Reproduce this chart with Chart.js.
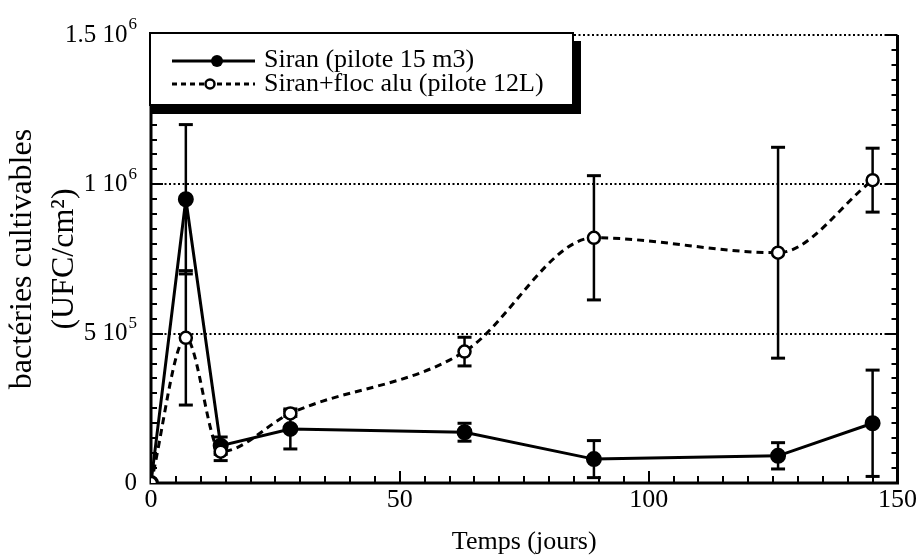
<!DOCTYPE html>
<html>
<head>
<meta charset="utf-8">
<script src="https://cdn.jsdelivr.net/npm/chart.js@4.4.0/dist/chart.umd.min.js"></script>
<style>
  body { margin: 0; background: #fff; }
  canvas { display: block; }
</style>
</head>
<body>
<canvas id="chart" width="919" height="558"></canvas>
<script>
// data (days, UFC/cm2)
const days = [0, 7, 14, 28, 63, 89, 126, 145];
const siranValues = [0, 950000, 125000, 181000, 170000, 80000, 91000, 200000];
const siranErrors = [0, 250000, 29000, 67000, 30000, 62000, 44000, 178000];
const flocValues = [0, 486000, 105000, 233000, 440000, 821000, 771000, 1014000];
const flocErrors = [0, 225000, 30000, 10000, 48000, 208000, 353000, 107000];

const yTickValues = [0, 500000, 1000000, 1500000];
const yTickBase = ['0', '5 10', '1 10', '1.5 10'];
const yTickExp = ['', '5', '6', '6'];

const serif = "'Liberation Serif', 'Times New Roman', serif";

function line(ctx, x1, y1, x2, y2) {
  ctx.beginPath();
  ctx.moveTo(x1, y1);
  ctx.lineTo(x2, y2);
  ctx.stroke();
}

// dotted grid, axes, inward ticks, y labels with exponents
const frame = {
  id: 'frame',
  beforeDatasetsDraw(chart) {
    const { ctx, chartArea: a, scales: { x, y } } = chart;
    ctx.save();
    ctx.strokeStyle = '#000';
    ctx.lineWidth = 2;
    ctx.setLineDash([2, 2.5]);
    yTickValues.slice(1).forEach(v => {
      const py = Math.round(y.getPixelForValue(v));
      line(ctx, a.left, py, a.right, py);
    });
    ctx.setLineDash([]);

    ctx.lineWidth = 3;
    ctx.beginPath();
    ctx.moveTo(a.left, a.top);
    ctx.lineTo(a.left, a.bottom);
    ctx.lineTo(a.right, a.bottom);
    ctx.lineTo(a.right, a.top);
    ctx.stroke();

    ctx.lineWidth = 2;
    for (let v = 0; v <= 1500000; v += 50000) {
      const py = Math.round(y.getPixelForValue(v));
      const len = v % 500000 === 0 ? 12 : 6;
      line(ctx, a.left, py, a.left + len, py);
      line(ctx, a.right, py, a.right - len, py);
    }
    for (let d = 5; d < 150; d += 5) {
      const px = Math.round(x.getPixelForValue(d));
      const len = d % 50 === 0 ? 12 : 7;
      line(ctx, px, a.bottom, px, a.bottom - len);
    }

    // y tick labels
    ctx.fillStyle = '#000';
    ctx.textBaseline = 'middle';
    yTickValues.forEach((v, i) => {
      const py = y.getPixelForValue(v);
      let right = a.left - 14;
      if (yTickExp[i]) {
        ctx.font = '17px ' + serif;
        ctx.textAlign = 'right';
        ctx.fillText(yTickExp[i], right, py - 10);
        right -= ctx.measureText(yTickExp[i]).width + 1;
      }
      ctx.font = '25px ' + serif;
      ctx.textAlign = 'right';
      ctx.fillText(yTickBase[i], right, py);
    });
    ctx.restore();
  }
};

const errorBars = {
  id: 'errorBars',
  beforeDatasetsDraw(chart) {
    const { ctx, scales: { x, y } } = chart;
    const sets = [[siranValues, siranErrors], [flocValues, flocErrors]];
    ctx.save();
    ctx.strokeStyle = '#000';
    sets.forEach(([vals, errs]) => {
      days.forEach((d, i) => {
        if (!errs[i]) return;
        const px = x.getPixelForValue(d);
        const top = y.getPixelForValue(vals[i] + errs[i]);
        const bot = y.getPixelForValue(Math.max(0, vals[i] - errs[i]));
        ctx.lineWidth = 2.5;
        line(ctx, px, top, px, bot);
        ctx.lineWidth = 3;
        line(ctx, px - 7, top, px + 7, top);
        line(ctx, px - 7, bot, px + 7, bot);
      });
    });
    ctx.restore();
  }
};

// boxed legend with drop shadow
const boxLegend = {
  id: 'boxLegend',
  afterDraw(chart) {
    const { ctx } = chart;
    const ds = chart.data.datasets;
    const bx = 150, by = 33, bw = 423, bh = 72;
    ctx.save();
    ctx.fillStyle = '#000';
    ctx.fillRect(bx + 2, by + 8, bw + 6, bh + 1);
    ctx.fillStyle = '#fff';
    ctx.fillRect(bx, by, bw, bh);
    ctx.strokeStyle = '#000';
    ctx.lineWidth = 2;
    ctx.strokeRect(bx, by, bw, bh);

    // entry 1
    ctx.lineWidth = 3;
    line(ctx, 172, 61, 255, 61);
    ctx.beginPath();
    ctx.arc(217, 61, 6, 0, Math.PI * 2);
    ctx.fillStyle = '#000';
    ctx.fill();
    // entry 2
    ctx.setLineDash([5, 4]);
    line(ctx, 172, 84, 255, 84);
    ctx.setLineDash([]);
    ctx.beginPath();
    ctx.arc(210, 84, 4.5, 0, Math.PI * 2);
    ctx.fillStyle = '#fff';
    ctx.fill();
    ctx.lineWidth = 2.5;
    ctx.stroke();

    ctx.fillStyle = '#000';
    ctx.font = '26px ' + serif;
    ctx.textAlign = 'left';
    ctx.textBaseline = 'alphabetic';
    ctx.fillText(ds[0].label, 264, 67);
    ctx.fillText(ds[1].label, 264, 91);
    ctx.restore();
  }
};

new Chart(document.getElementById('chart').getContext('2d'), {
  type: 'line',
  data: {
    datasets: [{
      label: 'Siran (pilote 15 m3)',
      data: days.map((d, i) => ({ x: d, y: siranValues[i] })),
      borderColor: '#000',
      borderWidth: 3,
      pointRadius: 6.5,
      pointBackgroundColor: '#000',
      pointBorderColor: '#000',
      tension: 0,
      order: 2
    }, {
      label: 'Siran+floc alu (pilote 12L)',
      data: days.map((d, i) => ({ x: d, y: flocValues[i] })),
      borderColor: '#000',
      borderWidth: 3,
      borderDash: [7, 5],
      pointRadius: 6,
      pointBackgroundColor: '#fff',
      pointBorderColor: '#000',
      pointBorderWidth: 2.5,
      cubicInterpolationMode: 'monotone',
      order: 1
    }]
  },
  options: {
    responsive: false,
    animation: false,
    devicePixelRatio: 1,
    layout: { padding: { top: 35, right: 21, bottom: 0, left: 0 } },
    plugins: {
      legend: { display: false },
      tooltip: { enabled: false }
    },
    scales: {
      x: {
        type: 'linear',
        min: 0,
        max: 150,
        grid: { display: false, drawTicks: false },
        border: { display: false },
        ticks: {
          stepSize: 50,
          padding: 2,
          color: '#000',
          font: { family: serif, size: 26 }
        },
        title: {
          display: true,
          text: 'Temps (jours)',
          color: '#000',
          font: { family: serif, size: 26 },
          padding: { top: 0, bottom: 0 }
        },
        afterFit(scale) { scale.height = 75; }
      },
      y: {
        min: 0,
        max: 1500000,
        grid: { display: false, drawTicks: false },
        border: { display: false },
        ticks: { display: false, stepSize: 500000 },
        title: {
          display: true,
          text: ['bactéries cultivables', '(UFC/cm²)'],
          color: '#000',
          font: { family: serif, size: 32, lineHeight: 1.3 },
          padding: { top: 2, bottom: 0 }
        },
        afterFit(scale) { scale.width = 151; }
      }
    }
  },
  plugins: [frame, errorBars, boxLegend]
});
</script>
</body>
</html>
